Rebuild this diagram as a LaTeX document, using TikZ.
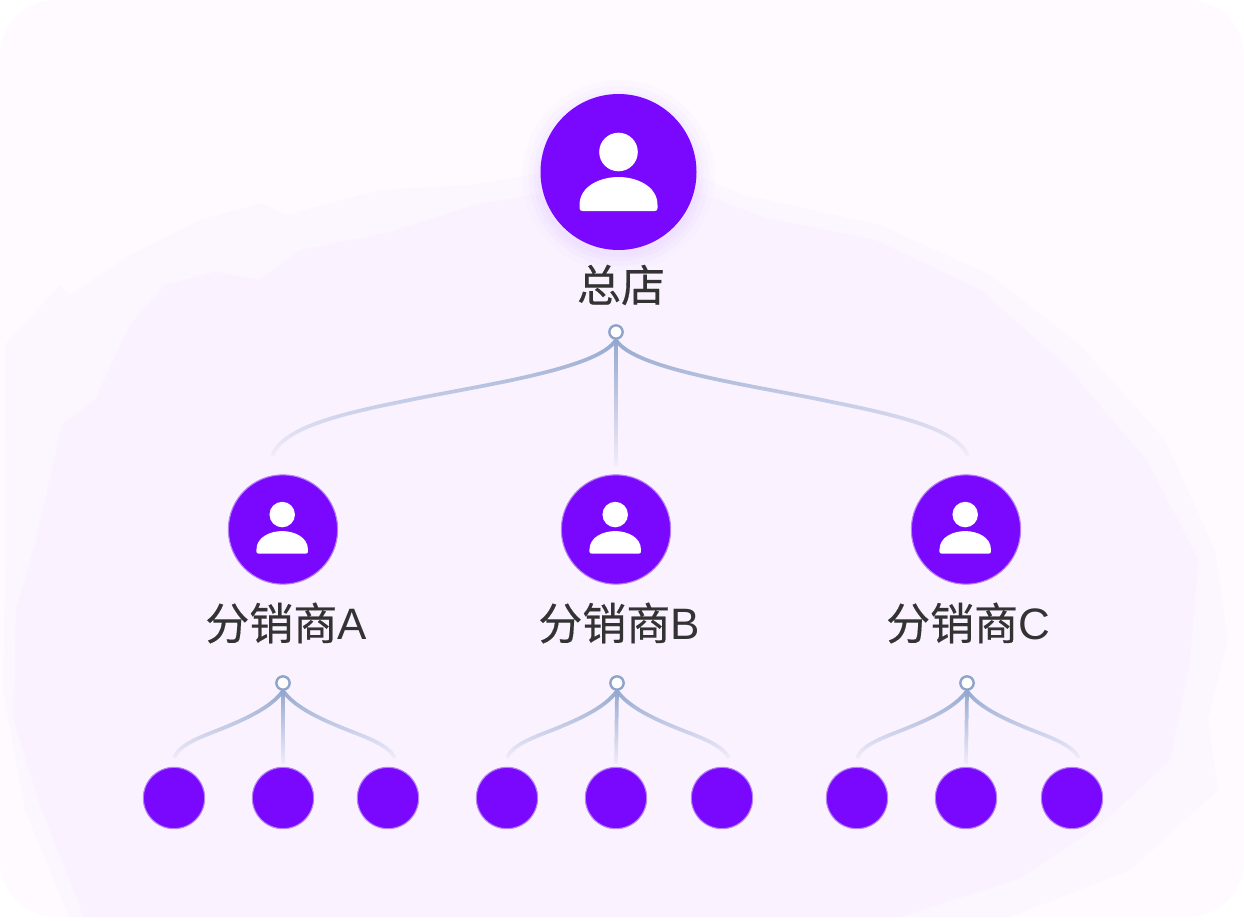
\documentclass[tikz,border=0pt]{standalone}
\usepackage{fontspec}
\setmainfont{Noto Sans CJK SC}
\newfontfamily\capfont[FakeBold=0.35]{Noto Sans CJK SC}
\newfontfamily\latinfont{Liberation Sans}
\usetikzlibrary{fadings}
\definecolor{cardbg}{HTML}{FEFAFF}
\definecolor{blobbg}{HTML}{FAF2FF}
\definecolor{violet}{HTML}{7A08FF}
\definecolor{ringviolet}{HTML}{B583F2}
\definecolor{linkblue}{HTML}{93A8CE}
\definecolor{hubblue}{HTML}{8EA4C9}
\definecolor{labelgray}{HTML}{333333}
\tikzfading[name=fadedown,top color=transparent!0,middle color=transparent!35,bottom color=transparent!95]
\tikzset{
  rootbox/.style={circle,fill=violet,inner sep=0pt,minimum size=117pt},
  midbox/.style={circle,fill=violet,draw=ringviolet,line width=.8pt,inner sep=0pt,minimum size=82pt},
  leafbox/.style={circle,fill=violet,draw=ringviolet,line width=.8pt,inner sep=0pt,minimum size=46pt},
  hub/.style={circle,fill=white,draw=hubblue,line width=1.8pt,inner sep=0pt,minimum size=10pt},
  link/.style={draw=linkblue,line width=2.8pt,path fading=fadedown},
  caption/.style={text=labelgray,font=\capfont\fontsize{33pt}{36pt}\selectfont,inner sep=0pt},
  personicon/.pic={
    \fill[white] (0,-20) circle (19.3);
    \fill[white] (-39,33) .. controls (-39,14) and (-18,5) .. (0,5)
      .. controls (18,5) and (39,14) .. (39,33) -- (39,36)
      .. controls (39,38) and (38,39) .. (36,39) -- (-36,39)
      .. controls (-38,39) and (-39,38) .. (-39,36) -- cycle;
  }
}
\begin{document}
\begin{tikzpicture}[x=.75pt,y=-.75pt]
\useasboundingbox (0,0) rectangle (1244,920);
\fill[white] (0,0) rectangle (1244,920);
\fill[cardbg,rounded corners=42pt] (0,0) rectangle (1244,917);
\begin{scope}
\clip[rounded corners=42pt] (0,0) rectangle (1244,917);
\fill[blobbg,opacity=.4] (3,690) -- (6,540) -- (5,345) -- (60,285) -- (70,295) -- (130,255) -- (200,220) -- (262,203)
  -- (285,215) -- (380,190) -- (470,185) -- (560,170) -- (680,170) -- (745,195) -- (880,225) -- (990,275) -- (1080,345)
  -- (1165,440) -- (1215,550) -- (1228,640) -- (1208,720) -- (1218,790) -- (1130,870) -- (1010,917) -- (70,920) -- (25,810) -- cycle;
\fill[blobbg] (14,720) -- (16,610) -- (35,545) -- (62,425) -- (95,400) -- (130,325) -- (165,285) -- (215,272) -- (260,280)
  -- (300,250) -- (390,232) -- (475,205) -- (560,190) -- (680,185) -- (765,218) -- (875,240) -- (980,290) -- (1065,365)
  -- (1148,462) -- (1198,560) -- (1190,660) -- (1170,760) -- (1100,825) -- (1020,878) -- (900,917) -- (85,920) -- (40,805) -- cycle;
\end{scope}

\foreach \r/\o in {96/.025,90/.03,85/.035,81/.04}
  \fill[violet!55!white,opacity=\o] (618.5,176) circle (\r);

\node[rootbox] (root) at (618.5,172) {};
\pic at (root.center) {personicon};
\node[caption] (rootlabel) at (621,285) {总店};

\node[hub] (roothub) at (616,332) {};
\coordinate (endA) at (272,456);
\coordinate (endB) at (616,466);
\coordinate (endC) at (968,456);
\draw[link] (roothub.south) .. controls (598,370) and (475,386) .. (400,402) .. controls (330,416) and (282,430) .. (endA);
\draw[link] (roothub.south) -- (endB);
\draw[link] (roothub.south) .. controls (634,370) and (757,386) .. (832,402) .. controls (902,416) and (958,430) .. (endC);

\foreach \name/\x/\lx/\txt in {A/283/286/A,B/616/619/B,C/966/968/C}{
  \node[midbox] (mid\name) at (\x,529.5) {};
  \pic[scale=.66] at ([xshift=-.6pt,yshift=1.3pt]mid\name.center) {personicon};
  \node[caption] (midlabel\name) at (\lx,623) {分销商{\latinfont\txt}};
}

\foreach \name/\hx/\lx/\cx/\rx in {A/283/174/283/388,B/617/507/616/722,C/967/857/966/1072}{
  \node[hub] (hub\name) at (\hx,683) {};
  \node[leafbox] (leaf\name1) at (\lx,798) {};
  \node[leafbox] (leaf\name2) at (\cx,798) {};
  \node[leafbox] (leaf\name3) at (\rx,798) {};
  \coordinate (tip\name1) at (\lx,758);
  \coordinate (tip\name2) at (\cx,764);
  \coordinate (tip\name3) at ({\rx+7},758);
  \draw[link] (hub\name.south) .. controls ({\hx-12},708) and ({\hx-40},720) .. ({\hx-62},729) .. controls ({\hx-85},738) and ({\lx+5},745) .. (tip\name1);
  \draw[link] (hub\name.south) -- (tip\name2);
  \draw[link] (hub\name.south) .. controls ({\hx+12},708) and ({\hx+40},720) .. ({\hx+62},729) .. controls ({\hx+85},738) and ({\rx},745) .. (tip\name3);
}
\end{tikzpicture}
\end{document}
